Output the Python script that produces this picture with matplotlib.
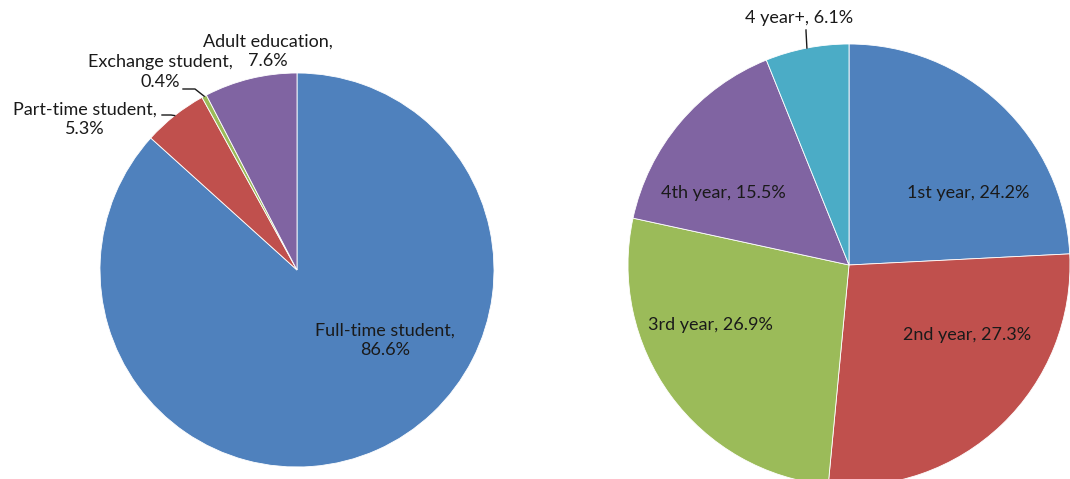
import matplotlib
matplotlib.use("Agg")
import matplotlib.pyplot as plt
import numpy as np

plt.rcParams['font.family'] = ['Lato', 'DejaVu Sans']

# left pie: student status
status_labels = ["Full-time student", "Part-time student", "Exchange student", "Adult education"]
status_pct = [86.6, 5.3, 0.4, 7.6]

# right pie: year of study
year_labels = ["1st year", "2nd year", "3rd year", "4th year", "4 year+"]
year_pct = [24.2, 27.3, 26.9, 15.5, 6.1]

colors = ["#4F81BD", "#C0504D", "#9BBB59", "#8064A2", "#4BACC6"]

W, H = 1070, 479


def px(x, y):
    # pixel coords (origin top-left) -> data coords
    return x, H - y


fig = plt.figure(figsize=(W / 100, H / 100), dpi=100)
ax = fig.add_axes([0, 0, 1, 1])

wl, _ = ax.pie(status_pct, colors=colors[:4], startangle=90, counterclock=False,
               center=px(297, 270), radius=197,
               wedgeprops=dict(edgecolor="white", linewidth=0.6))
wr, _ = ax.pie(year_pct, colors=colors, startangle=90, counterclock=False,
               center=px(849, 265), radius=221,
               wedgeprops=dict(edgecolor="white", linewidth=0.6))

txt = dict(fontsize=13, color="#1a1a1a", ha="center", va="center", linespacing=1.25)


def edge_point(w):
    a = np.deg2rad((w.theta1 + w.theta2) / 2)
    cx, cy = w.center
    return cx + w.r * np.cos(a), cy + w.r * np.sin(a)


def leader(start, knee, w):
    ex, ey = edge_point(w)
    ax.plot([start[0], knee[0], ex], [start[1], knee[1], ey], color="#1a1a1a", lw=1)


# left labels
ax.text(*px(385, 340), f"{status_labels[0]},\n{status_pct[0]}%", **txt)
ax.text(*px(85, 119), f"{status_labels[1]},\n{status_pct[1]}%", **txt)
leader(px(162, 115), px(171, 115), wl[1])
ax.text(*px(160, 72), f"{status_labels[2]},\n{status_pct[2]}%", **txt)
leader(px(183, 89), px(195, 89), wl[2])
ax.text(*px(268, 51), f"{status_labels[3]},\n{status_pct[3]}%", **txt)

# right labels
ax.text(*px(968, 193), f"{year_labels[0]}, {year_pct[0]}%", **txt)
ax.text(*px(967, 335), f"{year_labels[1]}, {year_pct[1]}%", **txt)
ax.text(*px(710, 325), f"{year_labels[2]}, {year_pct[2]}%", **txt)
ax.text(*px(723, 193), f"{year_labels[3]}, {year_pct[3]}%", **txt)
ax.text(*px(799, 18), f"{year_labels[4]}, {year_pct[4]}%", **txt)
leader(px(806, 30), px(806, 31), wr[4])

ax.set_xlim(0, W)
ax.set_ylim(0, H)
ax.set_aspect("auto")
ax.axis("off")

fig.savefig("out.png", dpi=100, facecolor="white")
